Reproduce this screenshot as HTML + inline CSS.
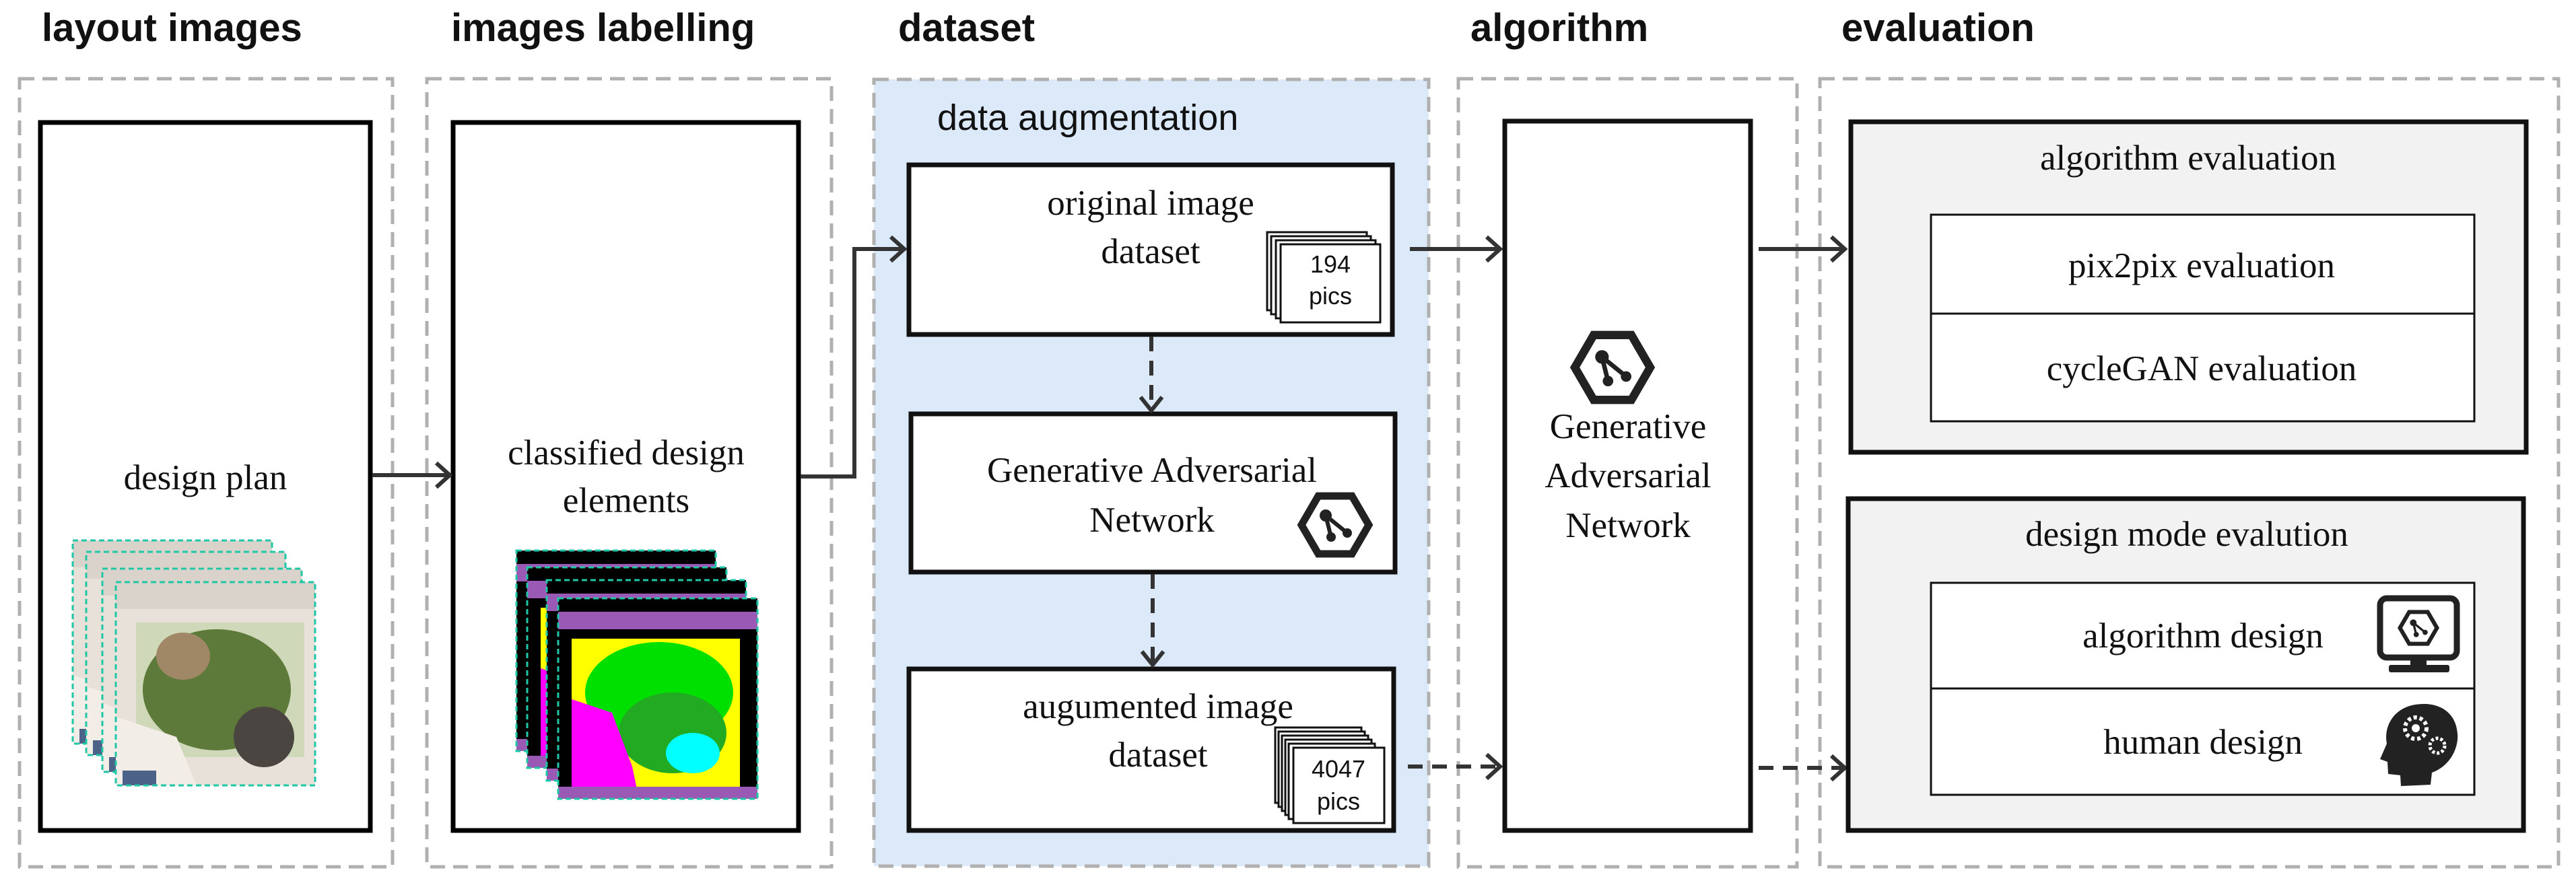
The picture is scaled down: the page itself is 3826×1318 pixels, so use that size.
<!DOCTYPE html>
<html><head><meta charset="utf-8"><style>
html,body{margin:0;padding:0;background:#fff;}
svg{display:block;}
.t{font-family:"Liberation Sans",sans-serif;font-weight:bold;font-size:58px;fill:#111;}
.s{font-family:"Liberation Serif",serif;font-size:53px;fill:#111;text-anchor:middle;}
.ss{font-family:"Liberation Sans",sans-serif;fill:#111;}
.fr{fill:none;stroke:#1fc7a6;stroke-width:3;stroke-dasharray:8,5;}
</style></head><body>
<svg width="3826" height="1318" viewBox="0 0 3826 1318" xmlns="http://www.w3.org/2000/svg">
<defs>
<g id="hex">
 <polygon points="-50,0 -25,-43 25,-43 50,0 25,43 -25,43" fill="none" stroke="#222" stroke-width="11"/>
 <line x1="-14" y1="-14" x2="-6" y2="18" stroke="#222" stroke-width="6"/>
 <line x1="-14" y1="-14" x2="18" y2="12" stroke="#222" stroke-width="6"/>
 <circle cx="-14" cy="-14" r="9" fill="#222"/>
 <circle cx="-6" cy="18" r="7" fill="#222"/>
 <circle cx="18" cy="12" r="7" fill="#222"/>
</g>
<g id="plan" stroke="none">
 <rect x="0" y="0" width="296" height="302" fill="#e7e1da"/>
 <rect x="0" y="0" width="296" height="40" fill="#d9d3cc"/>
 <rect x="30" y="60" width="250" height="200" fill="#cfd8b8"/>
 <ellipse cx="150" cy="160" rx="110" ry="90" fill="#5d7a3a"/>
 <ellipse cx="100" cy="110" rx="40" ry="35" fill="#a08866"/>
 <ellipse cx="220" cy="230" rx="45" ry="45" fill="#4a4540"/>
 <path d="M0,200 L90,230 L120,302 L0,302 Z" fill="#f2ede6"/>
 <rect x="10" y="280" width="50" height="22" fill="#4c6288"/>
</g>
<g id="cls" stroke="none">
 <rect x="0" y="0" width="296" height="298" fill="#000"/>
 <rect x="0" y="20" width="296" height="26" fill="#9b59b6"/>
 <rect x="20" y="60" width="250" height="220" fill="#ffff00"/>
 <ellipse cx="150" cy="140" rx="110" ry="75" fill="#00e000"/>
 <ellipse cx="170" cy="200" rx="80" ry="60" fill="#22aa22"/>
 <path d="M20,150 L80,170 L110,250 L120,298 L20,298 Z" fill="#ff00ff"/>
 <ellipse cx="200" cy="230" rx="40" ry="30" fill="#00ffff"/>
 <rect x="0" y="280" width="296" height="18" fill="#9b59b6"/>
</g>
</defs>

<text class="t" x="62" y="61">layout images</text>
<text class="t" x="670" y="61">images labelling</text>
<text class="t" x="1334" y="61">dataset</text>
<text class="t" x="2184" y="61">algorithm</text>
<text class="t" x="2735" y="61">evaluation</text>

<g fill="none" stroke="#b0b0b0" stroke-width="5" stroke-dasharray="22,12">
 <rect x="29" y="117" width="554" height="1171"/>
 <rect x="634" y="117" width="601" height="1171"/>
 <rect x="1298" y="118" width="824" height="1169" fill="#dbe9f9"/>
 <rect x="2166" y="117" width="503" height="1171"/>
 <rect x="2703" y="117" width="1097" height="1171"/>
</g>

<rect x="60" y="182" width="490" height="1052" fill="#fff" stroke="#000" stroke-width="7"/>
<text class="s" x="305" y="727">design plan</text>
<g transform="translate(108,803)"><use href="#plan"/><rect class="fr" width="296" height="302"/></g>
<g transform="translate(128,820)"><use href="#plan"/><rect class="fr" width="296" height="302"/></g>
<g transform="translate(152,845)"><use href="#plan"/><rect class="fr" width="296" height="302"/></g>
<g transform="translate(172,865)"><use href="#plan"/><rect class="fr" width="296" height="302"/></g>

<rect x="673" y="182" width="513" height="1052" fill="#fff" stroke="#000" stroke-width="7"/>
<text class="s" x="930" y="690">classified design</text>
<text class="s" x="930" y="761">elements</text>
<g transform="translate(767,818)"><use href="#cls"/><rect class="fr" width="296" height="298"/></g>
<g transform="translate(783,843)"><use href="#cls"/><rect class="fr" width="296" height="298"/></g>
<g transform="translate(812,862)"><use href="#cls"/><rect class="fr" width="296" height="298"/></g>
<g transform="translate(829,889)"><use href="#cls"/><rect class="fr" width="296" height="298"/></g>

<g stroke="#333" stroke-width="6" fill="none">
 <line x1="553" y1="706" x2="668" y2="706"/>
 <polyline points="648,688 668,706 648,724"/>
 <polyline points="1189,708 1269,708 1269,370 1343,370"/>
 <polyline points="1323,352 1343,370 1323,388"/>
</g>

<text class="ss" x="1392" y="193" font-size="54">data augmentation</text>
<rect x="1350" y="245" width="718" height="252" fill="#fff" stroke="#111" stroke-width="7"/>
<text class="s" x="1709" y="319">original image</text>
<text class="s" x="1709" y="391">dataset</text>
<g fill="#fff" stroke="#111" stroke-width="3">
 <rect x="1882" y="345" width="148" height="116"/>
 <rect x="1888" y="351" width="148" height="116"/>
 <rect x="1895" y="357" width="148" height="116"/>
 <rect x="1902" y="363" width="148" height="116"/>
</g>
<text class="ss" x="1976" y="405" font-size="36" text-anchor="middle">194</text>
<text class="ss" x="1976" y="452" font-size="36" text-anchor="middle">pics</text>

<rect x="1353" y="615" width="719" height="235" fill="#fff" stroke="#111" stroke-width="7"/>
<text class="s" x="1711" y="716">Generative Adversarial</text>
<text class="s" x="1711" y="790">Network</text>
<use href="#hex" transform="translate(1983,780)"/>

<rect x="1350" y="994" width="720" height="240" fill="#fff" stroke="#111" stroke-width="7"/>
<text class="s" x="1720" y="1067">augumented image</text>
<text class="s" x="1720" y="1139">dataset</text>
<g fill="#fff" stroke="#111" stroke-width="3">
 <rect x="1894" y="1081" width="128" height="112"/>
 <rect x="1899" y="1087" width="128" height="112"/>
 <rect x="1904" y="1093" width="128" height="112"/>
 <rect x="1909" y="1099" width="128" height="112"/>
 <rect x="1914" y="1105" width="128" height="112"/>
 <rect x="1921" y="1111" width="135" height="112"/>
</g>
<text class="ss" x="1988" y="1155" font-size="36" text-anchor="middle">4047</text>
<text class="ss" x="1988" y="1203" font-size="36" text-anchor="middle">pics</text>

<g stroke="#333" stroke-width="6" fill="none">
 <line x1="1710" y1="500" x2="1710" y2="610" stroke-dasharray="22,14"/>
 <polyline points="1694,590 1710,610 1726,590"/>
 <line x1="1712" y1="853" x2="1712" y2="988" stroke-dasharray="22,14"/>
 <polyline points="1696,968 1712,988 1728,968"/>
 <line x1="2094" y1="370" x2="2228" y2="370"/>
 <polyline points="2208,352 2228,370 2208,388"/>
 <line x1="2091" y1="1139" x2="2228" y2="1139" stroke-dasharray="22,14"/>
 <polyline points="2208,1121 2228,1139 2208,1157"/>
</g>

<rect x="2235" y="180" width="365" height="1054" fill="#fff" stroke="#111" stroke-width="7"/>
<use href="#hex" transform="translate(2395,546) scale(1.12)"/>
<text class="s" x="2418" y="651">Generative</text>
<text class="s" x="2418" y="724">Adversarial</text>
<text class="s" x="2418" y="798">Network</text>

<g stroke="#333" stroke-width="6" fill="none">
 <line x1="2612" y1="370" x2="2740" y2="370"/>
 <polyline points="2720,352 2740,370 2720,388"/>
 <line x1="2612" y1="1141" x2="2740" y2="1141" stroke-dasharray="22,14"/>
 <polyline points="2720,1123 2740,1141 2720,1159"/>
</g>

<rect x="2749" y="181" width="1003" height="491" fill="#f2f2f2" stroke="#111" stroke-width="7"/>
<text class="s" x="3250" y="252">algorithm  evaluation</text>
<rect x="2868" y="319" width="807" height="307" fill="#fff" stroke="#111" stroke-width="3"/>
<line x1="2868" y1="466" x2="3675" y2="466" stroke="#111" stroke-width="3"/>
<text class="s" x="3270" y="412">pix2pix evaluation</text>
<text class="s" x="3270" y="565">cycleGAN evaluation</text>

<rect x="2745" y="741" width="1003" height="493" fill="#f2f2f2" stroke="#111" stroke-width="7"/>
<text class="s" x="3248" y="811">design mode evalution</text>
<rect x="2868" y="866" width="807" height="315" fill="#fff" stroke="#111" stroke-width="3"/>
<line x1="2868" y1="1023" x2="3675" y2="1023" stroke="#111" stroke-width="3"/>
<text class="s" x="3272" y="962">algorithm design</text>
<text class="s" x="3272" y="1120">human design</text>

<rect x="3535" y="889" width="114" height="88" rx="10" fill="none" stroke="#222" stroke-width="9"/>
<rect x="3580" y="977" width="24" height="12" fill="#222"/>
<rect x="3548" y="988" width="90" height="11" rx="3" fill="#222"/>
<use href="#hex" transform="translate(3592,933) scale(0.55)"/>

<path d="M3600,1046 C3555,1046 3540,1080 3545,1105 L3535,1128 L3546,1132 L3547,1150 L3565,1152 L3566,1168 L3610,1166 L3612,1148 C3640,1138 3652,1110 3650,1090 C3648,1062 3628,1046 3600,1046 Z" fill="#222"/>
<circle cx="3588" cy="1082" r="16" fill="none" stroke="#fff" stroke-width="6" stroke-dasharray="5,4"/>
<circle cx="3588" cy="1082" r="6" fill="#fff"/>
<circle cx="3620" cy="1108" r="11" fill="none" stroke="#fff" stroke-width="5" stroke-dasharray="4,3"/>
</svg>
</body></html>
